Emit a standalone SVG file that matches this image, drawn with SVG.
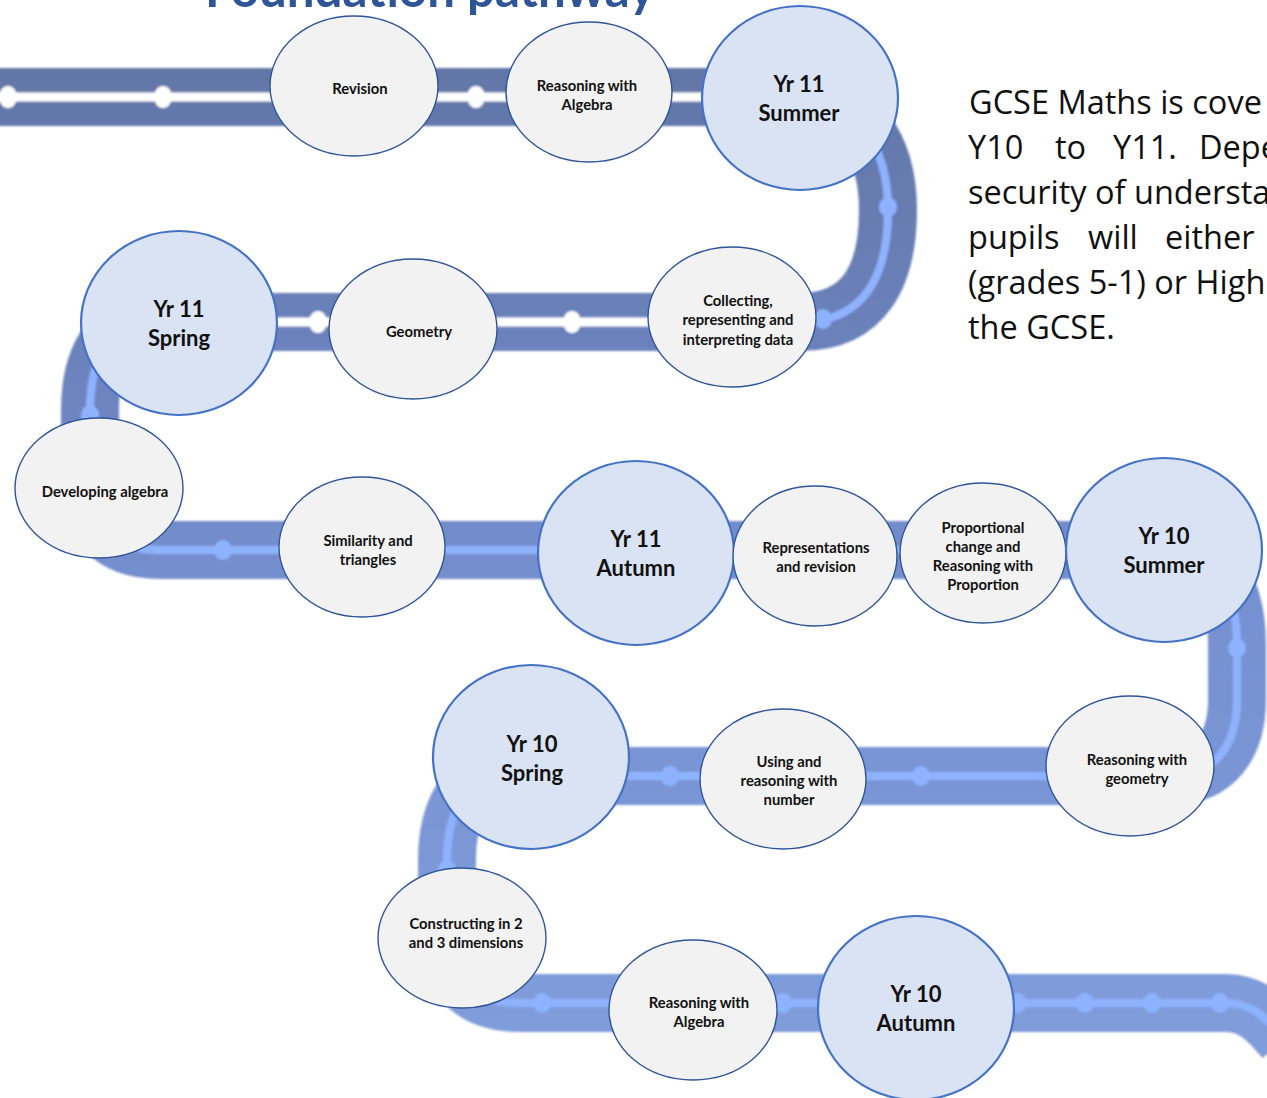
<svg xmlns="http://www.w3.org/2000/svg" width="1267" height="1098" viewBox="0 0 1267 1098">
<style>
  .sm { fill: #F2F2F2; stroke: #2F5597; stroke-width: 1.4; }
  .bg { fill: #DAE3F3; stroke: #4472C4; stroke-width: 2.2; }
  .ts { font-family: Lato, "Open Sans", "Liberation Sans", sans-serif; font-weight: 700; font-size: 14.8px; fill: #111; text-anchor: middle; }
  .tb { font-family: Lato, "Open Sans", "Liberation Sans", sans-serif; font-weight: 700; font-size: 22px; fill: #111; text-anchor: middle; }
  .body { font-family: "Open Sans", "Liberation Sans", sans-serif; font-size: 32.5px; fill: #111; }
  .title { font-family: Lato, "Open Sans", "Liberation Sans", sans-serif; font-weight: 700; font-size: 49px; fill: #2F5597; }
  .dw { fill: #FFFFFF; }
  .db { fill: #8FB2FF; }
</style>
<defs>
  <linearGradient id="roadGrad" gradientUnits="userSpaceOnUse" x1="0" y1="60" x2="0" y2="1040">
    <stop offset="0" stop-color="#6276A6"/>
    <stop offset="0.3" stop-color="#6C82BC"/>
    <stop offset="0.55" stop-color="#7690D0"/>
    <stop offset="1" stop-color="#809DDB"/>
  </linearGradient>
  <filter id="soft" filterUnits="userSpaceOnUse" x="-50" y="-50" width="1400" height="1200">
    <feGaussianBlur stdDeviation="1.3"/>
  </filter>
</defs>
<rect width="1267" height="1098" fill="#FFFFFF"/>

<text class="title" x="205" y="7" textLength="450" lengthAdjust="spacingAndGlyphs">Foundation pathway</text>

<g id="connectors">
  <g filter="url(#soft)">
    <path id="road" d="M -20 97 L 790 97 C 860 97 888 150 888 210 C 888 275 865 322 800 322 L 150 322 C 110 322 90 360 90 410 L 90 480 C 90 525 112 550 160 550 L 1170 550 C 1215 550 1237 590 1237 645 L 1237 700 C 1237 745 1215 776 1170 776 L 500 776 C 465 776 447 815 447 860 L 447 930 C 447 975 470 1003 520 1003 L 1225 1003 C 1250 1003 1265 1015 1285 1040" fill="none" stroke="url(#roadGrad)" stroke-width="58"/>
    <path d="M -20 97 L 790 97 C 860 97 888 150 888 210 C 888 275 865 322 800 322 L 150 322 C 110 322 90 360 90 410 L 90 480 C 90 525 112 550 160 550 L 1170 550 C 1215 550 1237 590 1237 645 L 1237 700 C 1237 745 1215 776 1170 776 L 500 776 C 465 776 447 815 447 860 L 447 930 C 447 975 470 1003 520 1003 L 1225 1003 C 1250 1003 1265 1015 1285 1040" fill="none" stroke="#8FB2FF" stroke-width="8"/>
    <path d="M -20 97 L 800 97 M 200 322 L 790 322" fill="none" stroke="#FFFFFF" stroke-width="9"/>
    <ellipse class="dw" cx="8" cy="97" rx="9" ry="11"/>
    <ellipse class="dw" cx="163" cy="97" rx="9" ry="11"/>
    <ellipse class="dw" cx="476" cy="97" rx="9" ry="11"/>
    <ellipse class="dw" cx="318" cy="322" rx="9" ry="11"/>
    <ellipse class="dw" cx="572" cy="322" rx="9" ry="11"/>
    <ellipse class="db" cx="888" cy="207" rx="9" ry="10"/>
    <ellipse class="db" cx="823" cy="319" rx="9" ry="10"/>
    <ellipse class="db" cx="90" cy="415" rx="9" ry="10"/>
    <ellipse class="db" cx="223" cy="550" rx="9" ry="10"/>
    <ellipse class="db" cx="1237" cy="648" rx="9" ry="10"/>
    <ellipse class="db" cx="670" cy="776" rx="9" ry="10"/>
    <ellipse class="db" cx="921" cy="776" rx="9" ry="10"/>
    <ellipse class="db" cx="447" cy="870" rx="9" ry="10"/>
    <ellipse class="db" cx="542" cy="1003" rx="9" ry="10"/>
    <ellipse class="db" cx="783" cy="1003" rx="9" ry="10"/>
    <ellipse class="db" cx="1018" cy="1003" rx="9" ry="10"/>
    <ellipse class="db" cx="1085" cy="1003" rx="9" ry="10"/>
    <ellipse class="db" cx="1152" cy="1003" rx="9" ry="10"/>
    <ellipse class="db" cx="1220" cy="1003" rx="9" ry="10"/>
  </g>
</g>

<g id="n-revision"><ellipse class="sm" cx="354" cy="86" rx="84" ry="70"/><text class="ts" x="360" y="94">Revision</text></g>
<g id="n-reasoning-algebra-11"><ellipse class="sm" cx="589" cy="92" rx="83" ry="70"/><text class="ts" x="587" y="91">Reasoning with</text><text class="ts" x="587" y="110">Algebra</text></g>
<g id="n-yr11-summer"><ellipse class="bg" cx="800" cy="98" rx="98" ry="92"/><text class="tb" x="799" y="92">Yr 11</text><text class="tb" x="799" y="121">Summer</text></g>
<g id="n-collecting"><ellipse class="sm" cx="732" cy="317" rx="84" ry="70"/><text class="ts" x="738" y="306">Collecting,</text><text class="ts" x="738" y="325">representing and</text><text class="ts" x="738" y="345">interpreting data</text></g>
<g id="n-geometry"><ellipse class="sm" cx="413" cy="329" rx="84" ry="70"/><text class="ts" x="419" y="337">Geometry</text></g>
<g id="n-yr11-spring"><ellipse class="bg" cx="179" cy="323" rx="98" ry="92"/><text class="tb" x="179" y="317">Yr 11</text><text class="tb" x="179" y="346">Spring</text></g>
<g id="n-developing-algebra"><ellipse class="sm" cx="99" cy="488" rx="84" ry="70"/><text class="ts" x="105" y="497">Developing algebra</text></g>
<g id="n-similarity"><ellipse class="sm" cx="362" cy="547" rx="83" ry="70"/><text class="ts" x="368" y="546">Similarity and</text><text class="ts" x="368" y="565">triangles</text></g>
<g id="n-yr11-autumn"><ellipse class="bg" cx="636" cy="553" rx="98" ry="92"/><text class="tb" x="636" y="547">Yr 11</text><text class="tb" x="636" y="576">Autumn</text></g>
<g id="n-representations"><ellipse class="sm" cx="815" cy="556" rx="82" ry="70"/><text class="ts" x="816" y="553">Representations</text><text class="ts" x="816" y="572">and revision</text></g>
<g id="n-proportional"><ellipse class="sm" cx="983" cy="553" rx="83" ry="70"/><text class="ts" x="983" y="533">Proportional</text><text class="ts" x="983" y="552">change and</text><text class="ts" x="983" y="571">Reasoning with</text><text class="ts" x="983" y="590">Proportion</text></g>
<g id="n-yr10-summer"><ellipse class="bg" cx="1164" cy="550" rx="98" ry="92"/><text class="tb" x="1164" y="544">Yr 10</text><text class="tb" x="1164" y="573">Summer</text></g>
<g id="n-reasoning-geometry"><ellipse class="sm" cx="1130" cy="766" rx="84" ry="70"/><text class="ts" x="1137" y="765">Reasoning with</text><text class="ts" x="1137" y="784">geometry</text></g>
<g id="n-using-number"><ellipse class="sm" cx="783" cy="779" rx="83" ry="70"/><text class="ts" x="789" y="767">Using and</text><text class="ts" x="789" y="786">reasoning  with</text><text class="ts" x="789" y="805">number</text></g>
<g id="n-yr10-spring"><ellipse class="bg" cx="531" cy="757" rx="98" ry="92"/><text class="tb" x="532" y="752">Yr 10</text><text class="tb" x="532" y="781">Spring</text></g>
<g id="n-constructing"><ellipse class="sm" cx="462" cy="938" rx="84" ry="70"/><text class="ts" x="466" y="929">Constructing in 2</text><text class="ts" x="466" y="948">and 3 dimensions</text></g>
<g id="n-reasoning-algebra-10"><ellipse class="sm" cx="693" cy="1010" rx="84" ry="70"/><text class="ts" x="699" y="1008">Reasoning with</text><text class="ts" x="699" y="1027">Algebra</text></g>
<g id="n-yr10-autumn"><ellipse class="bg" cx="916" cy="1008" rx="98" ry="92"/><text class="tb" x="916" y="1002">Yr 10</text><text class="tb" x="916" y="1031">Autumn</text></g>

<g id="intro-text" class="body">
  <text x="969" y="114">GCSE Maths is cove</text>
  <text y="159"><tspan x="968">Y10</tspan><tspan x="1055">to</tspan><tspan x="1113">Y11.</tspan><tspan x="1199">Depe</tspan></text>
  <text x="968" y="204">security of understa</text>
  <text y="249"><tspan x="968">pupils</tspan><tspan x="1088">will</tspan><tspan x="1165">either</tspan></text>
  <text x="968" y="294">(grades 5-1) or High</text>
  <text x="968" y="339">the GCSE.</text>
</g>
</svg>
